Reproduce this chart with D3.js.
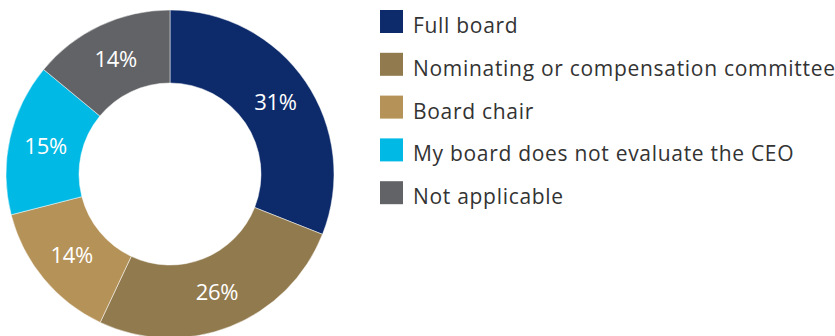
<!DOCTYPE html>
<html>
<head>
<meta charset="utf-8">
<script src="https://cdn.jsdelivr.net/npm/d3@7"></script>
<style>
  html, body { margin: 0; padding: 0; background: #fff; }
  svg { display: block; }
</style>
</head>
<body>
<svg id="chart" width="835" height="336"></svg>
<script>
// Who evaluates the CEO — share of respondents
const categories = [
  "Full board",
  "Nominating or compensation committee",
  "Board chair",
  "My board does not evaluate the CEO",
  "Not applicable"
];
const values = [31, 26, 14, 15, 14];
const colors = ["#0d2b6b", "#917a4e", "#b59257", "#00b9e4", "#626366"];

const svg = d3.select("#chart");
const cx = 170, cy = 174, outerR = 164, innerR = 91;

const data = categories.map((c, i) => ({ name: c, value: values[i], color: colors[i] }));

const pie = d3.pie().sort(null).value(d => d.value);
const arc = d3.arc().innerRadius(innerR).outerRadius(outerR);
const labelArc = d3.arc().innerRadius((innerR + outerR) / 2).outerRadius((innerR + outerR) / 2);

const g = svg.append("g").attr("transform", `translate(${cx},${cy})`);

g.selectAll("path.slice")
  .data(pie(data))
  .join("path")
  .attr("class", "slice")
  .attr("d", arc)
  .attr("fill", d => d.data.color)
  .attr("stroke", "#ffffff")
  .attr("stroke-width", 0.5);

g.selectAll("text.pct")
  .data(pie(data))
  .join("text")
  .attr("class", "pct")
  .attr("transform", d => `translate(${labelArc.centroid(d)})`)
  .attr("text-anchor", "middle")
  .attr("dy", "0.36em")
  .attr("fill", "#ffffff")
  .attr("font-family", "'Open Sans', sans-serif")
  .attr("font-size", 22)
  .attr("letter-spacing", -0.3)
  .text(d => d.data.value + "%");

// Legend
const legend = svg.append("g").attr("transform", "translate(380,10)");
const rowH = 42.8;
const rows = legend.selectAll("g.row")
  .data(data)
  .join("g")
  .attr("class", "row")
  .attr("transform", (d, i) => `translate(0,${i * rowH})`);

rows.append("rect")
  .attr("width", 23)
  .attr("height", 23)
  .attr("fill", d => d.color);

rows.append("text")
  .attr("x", 33)
  .attr("y", 23)
  .attr("fill", "#333333")
  .attr("font-family", "'Open Sans', sans-serif")
  .attr("font-size", 21)
  .attr("letter-spacing", 0.7)
  .text(d => d.name);
</script>
</body>
</html>
